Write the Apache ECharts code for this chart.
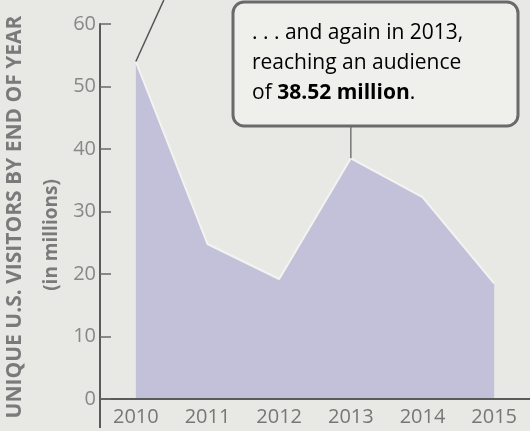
<!DOCTYPE html>
<html>
<head>
<meta charset="utf-8">
<script src="https://cdn.jsdelivr.net/npm/echarts@6/dist/echarts.min.js"></script>
<style>
  html, body { margin: 0; padding: 0; background: #e8e8e5; }
  #main { width: 530px; height: 431px; }
</style>
</head>
<body>
<div id="main"></div>
<script>
var years = ['2010', '2011', '2012', '2013', '2014', '2015'];
var visitors = [54, 24.8, 19.2, 38.52, 32.3, 18.5];
var yTicks = [0, 10, 20, 30, 40, 50, 60];

var myChart = echarts.init(document.getElementById('main'));
var font = '"Open Sans", "Noto Sans", sans-serif';

var option = {
    backgroundColor: '#e8e8e5',
    animation: false,
    grid: { left: 100, top: 24, width: 445, bottom: 32 },
    xAxis: {
        type: 'category',
        data: years,
        boundaryGap: true,
        axisLine: { lineStyle: { color: '#5a5a5a', width: 2 } },
        axisTick: { show: false },
        axisLabel: { color: '#777', fontSize: 20, fontFamily: font, margin: 8 },
        z: 5
    },
    yAxis: {
        type: 'value',
        min: yTicks[0],
        max: yTicks[yTicks.length - 1],
        interval: 10,
        axisLine: { show: true, lineStyle: { color: '#5a5a5a', width: 2 } },
        axisTick: { show: true, inside: true, length: 11, lineStyle: { color: '#6a6a6a', width: 1.5 } },
        axisLabel: { color: '#888', fontSize: 20, fontFamily: font, margin: 4 },
        splitLine: { show: false },
        z: 5
    },
    series: [{
        type: 'line',
        data: visitors,
        symbol: 'none',
        lineStyle: { color: '#f3f3f1', width: 2 },
        areaStyle: { color: '#c3c1d9', opacity: 1 }
    }]
};
myChart.setOption(option);

// annotation pieces placed from the data points
var p2010 = myChart.convertToPixel({ gridIndex: 0 }, [0, visitors[0]]);
var p2013 = myChart.convertToPixel({ gridIndex: 0 }, [3, visitors[3]]);
var origin = myChart.convertToPixel({ gridIndex: 0 }, [0, 0]);

myChart.setOption({
    graphic: [
        {
            type: 'line', z: 10,
            shape: { x1: 100, y1: origin[1], x2: 100, y2: 428 },
            style: { stroke: '#5a5a5a', lineWidth: 2 }
        },
        {
            type: 'line', z: 10,
            shape: { x1: p2010[0], y1: p2010[1], x2: p2010[0] + 28, y2: 0 },
            style: { stroke: '#555', lineWidth: 1.5 }
        },
        {
            type: 'line', z: 10,
            shape: { x1: p2013[0], y1: p2013[1], x2: p2013[0], y2: 126 },
            style: { stroke: '#777', lineWidth: 1.5 }
        },
        {
            type: 'rect', z: 11,
            shape: { x: 233, y: 2, width: 285, height: 124, r: 11 },
            style: { fill: '#efefec', stroke: '#6a6a6a', lineWidth: 3 }
        },
        {
            type: 'text', z: 12, x: 252, y: 18,
            style: {
                text: '{n|. . . and again in 2013,}\n{n|reaching an audience}\n{n|of }{b|38.52 million}{n|.}',
                rich: {
                    n: { fontSize: 21, fontFamily: font, color: '#888', lineHeight: 30 },
                    b: { fontSize: 21, fontFamily: font, fontWeight: 'bold', color: '#555', lineHeight: 30 }
                }
            }
        },
        {
            type: 'text', z: 12, x: 15, y: 217, rotation: Math.PI / 2,
            style: {
                text: 'UNIQUE U.S. VISITORS BY END OF YEAR',
                fontSize: 21, fontWeight: 'bold', fontFamily: font, fill: '#7a7a7a',
                align: 'center', verticalAlign: 'middle'
            }
        },
        {
            type: 'text', z: 12, x: 52, y: 235, rotation: Math.PI / 2,
            style: {
                text: '(in millions)',
                fontSize: 19, fontWeight: 'bold', fontFamily: font, fill: '#7a7a7a',
                align: 'center', verticalAlign: 'middle'
            }
        }
    ]
});
</script>
</body>
</html>
